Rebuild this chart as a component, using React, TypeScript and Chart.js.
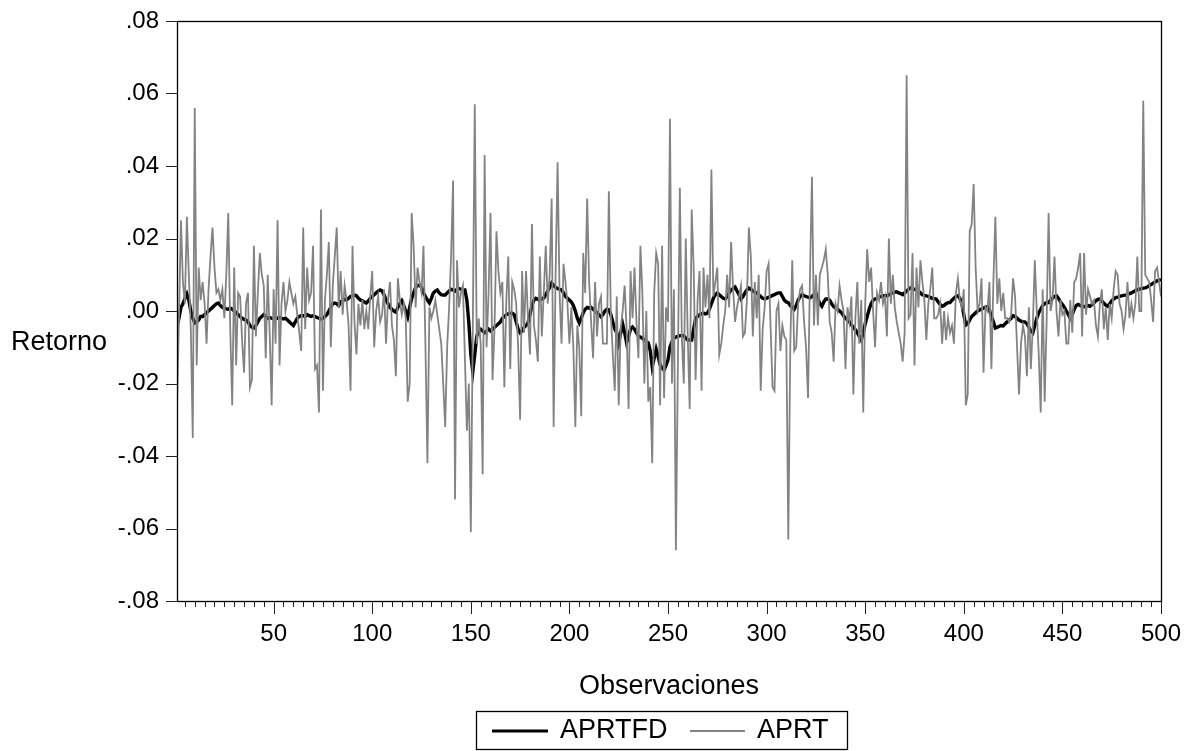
import React, { useEffect, useRef } from 'react';
import { Chart, registerables } from 'chart.js';

Chart.register(...registerables);

// Observation index (x axis): 1 .. 500
const OBS_FIRST = 1;
const OBS_LAST = 500;

// APRTFD (black, smoothed) – values in thousandths (‰)
const APRTFD_PERMIL: number[] = [
  -4.4, -2, 1, 2, 3.5, 4.7, 3, 0, -2, -3.3,
  -3, -2.5, -1.5, -1.5, -1, -0.5, 0, 0.5, 1, 1.5,
  2, 2.2, 1.5, 1, 0.8, 0.6, 0.5, 0.8, 0.5, 0,
  -0.5, -1, -1.5, -2, -2.3, -2.5, -3, -4, -4.5, -4.7,
  -4, -3, -2, -1.5, -1, -1.5, -2, -1.8, -2, -2.2,
  -2, -2, -1.8, -2, -2.2, -2, -2.5, -3, -3.5, -4,
  -3, -2, -1.5, -1.3, -1.3, -1.5, -1, -1.3, -1.5, -1.3,
  -1.5, -1.8, -2, -2.2, -2, -1.5, -1, 0, 1, 2,
  2.2, 2, 1.5, 2.5, 3, 3.2, 3, 3.5, 4, 4.2,
  4.4, 4.2, 3.5, 3, 2.8, 2.5, 2.2, 2.8, 3.5, 4,
  4.5, 5, 5.5, 5.8, 5.5, 4.5, 3, 2, 1, 0.5,
  0, -0.3, 1, 2, 2.8, 1.5, 0, -1.6, 1, 3.5,
  5, 6.5, 7, 7.2, 6.5, 5, 4, 3, 2.2, 3.5,
  5, 5.5, 5.8, 5, 4.5, 4.4, 4.4, 5, 5.5, 6,
  5.8, 5.5, 6, 6.2, 6, 5.8, 5.8, 3, -3.3, -12,
  -16.8, -12, -7, -5.2, -5, -5.5, -6, -5.5, -5, -5.5,
  -5, -4.5, -4, -3.5, -3, -2, -1.5, -1, -0.8, -0.6,
  -0.6, -1, -3, -5, -6, -5.5, -4.5, -4, -3.3, -1,
  1.5, 3, 3.5, 3.2, 3, 3.3, 3.6, 4.5, 5.5, 6.5,
  7.7, 7, 6.5, 6.2, 6, 5.8, 5, 4, 3.5, 3,
  2.5, 1.5, 0, -2, -3.3, -2, -0.5, 0.5, 1, 0.8,
  1, 0.5, 0, -0.5, -1, -1.6, -1, 0, 0.5, 0.3,
  -1, -3, -5, -6, -8.8, -6, -3.6, -6, -8.8, -7,
  -5, -4.4, -5, -6, -7, -7.2, -7.5, -8, -8.5, -8.8,
  -11, -15.4, -13, -10.5, -12.5, -14.9, -15.7, -16.3, -15, -13.5,
  -9.9, -8.5, -7.5, -7.2, -7, -6.8, -6.8, -6.8, -7.5, -8,
  -8, -8, -5, -2, -1.5, -1, -0.8, -0.6, -0.8, -0.6,
  0.5, 2, 3.5, 4.5, 5, 4.5, 4, 3.5, 3.3, 4,
  5, 5.8, 6.2, 6.6, 5.5, 4.5, 3.3, 4, 5, 5.8,
  6.3, 6, 5.5, 5.2, 5, 4.5, 4, 3.5, 3.3, 3.5,
  3.8, 4, 4.3, 4.5, 4.8, 5, 5, 4, 3, 2.5,
  2.3, 1.5, 1, 0.5, 1.5, 3, 4, 4.5, 4.2, 4,
  3.8, 3.6, 4, 4.5, 5, 3.5, 2, 1.3, 2.5, 3.3,
  3.3, 3, 2, 1.2, 0.8, 0.5, 0, -0.5, -1.3, -2,
  -2.5, -3, -3.8, -4.5, -5.2, -6, -7, -8, -6, -3.5,
  -1.5, 0.5, 2, 3, 3.3, 3.5, 3.8, 4, 4.2, 4.2,
  4.2, 4.5, 4.8, 5, 5.2, 5.3, 5, 4.8, 4.5, 5,
  5.5, 6, 6.4, 6.2, 6, 5.9, 5.5, 5, 4.5, 4.3,
  4.2, 4, 3.8, 3.5, 3.4, 3.3, 2.5, 1.8, 1.3, 1.5,
  2, 2.3, 2.3, 3, 3.5, 4, 4.2, 3.5, 2, -1,
  -3.9, -3.5, -2.5, -1.5, -1, -0.5, 0, 0.3, 0.5, 0.8,
  1, 1.2, 0.3, -1.5, -3, -4.7, -4.5, -4.2, -4, -4.1,
  -3.5, -3, -2.5, -2, -1.3, -1.5, -2, -2.5, -2.8, -3,
  -3, -3.5, -4.5, -5.5, -6, -4, -2, -0.5, 0.5, 1.5,
  2, 2.3, 2.3, 3, 3.5, 4, 4.2, 3.5, 2.5, 1.8,
  1, 0, -1, -2, -1, 0.5, 1.5, 1.8, 1.5, 1.3,
  1.2, 1.3, 1.5, 1.3, 1.8, 2.3, 2.8, 3.2, 3.3, 2.8,
  2.2, 1.6, 1.3, 2, 2.8, 3.3, 3.7, 3.8, 4, 4.2,
  4.3, 4.4, 4.5, 4.8, 5, 5.3, 5.6, 5.9, 6, 6.2,
  6.3, 6.4, 6.6, 7, 7.3, 7.7, 8, 8.3, 8.5, 8.6,
];

// APRT (grey, raw returns) – values in thousandths (‰)
const APRT_PERMIL: number[] = [
  -27, -2, 25, 8, 2, 26, 10, -5, -35, 56,
  -15, 12, 3, 8, 2, -9, 6, 15, 23, 12,
  5, 6, 3, 6, -2, 10, 27, -5, -26, 12,
  -15, 5, 4, -8, -17, 2, 5, -21, -19, 18,
  -7, 5, 16, 10, 7, -13, 10, -6, -26, 6,
  -9, 25, -15, 2, 8, 0, 3, 8, 5, 2,
  4, -1, -6, -11, 23, -5, 12, 3, 5, 18,
  -16, -15, -28, 28, -22, 3, 10, 19, -10, 7,
  15, 23, 1, 11, -1, 7, 3, -4, -22, 18,
  -3, -12, 2, -4, 3, -5, 0, -5, 4, 11,
  -10, 0, 4, -3, -1, 6, -9, 3, 8, -4,
  -8, -18, 9, 3, -1, 2, -2, -25, -20, 27,
  18, 1, 12, 8, 5, 18, -10, -42, 1, -2,
  0, 3, -1, -5, -9, -20, -32, -10, 1, 15,
  36, -52, 14, 1, 5, 7, -13, -33, -20, -61,
  -5, 57, -9, -2, -9, -45, 43, -10, 5, 27,
  -19, -5, 22, 11, 5, 8, -21, 3, 15, -16,
  8, 6, 2, -10, -30, 11, -6, 11, -2, -12,
  24, -4, -8, -14, 15, -7, 5, 18, 2, 10,
  31, -32, 10, 41, 5, -9, 13, 8, 2, -9,
  1, -10, -32, -4, -10, -29, 16, 5, 31, 8,
  -3, -13, 8, -7, 2, 4, -9, -9, -9, 33,
  -1, -12, -22, 4, -26, -5, 0, 7, -5, -27,
  11, -2, 12, -3, -13, 18, 5, -20, 0, -25,
  -21, -42, 5, 16, 13, -26, 18, -24, 1, -3,
  53, -20, 6, -66, -15, 34, -7, -20, 20, -7,
  -27, 28, 12, -19, 3, 11, -22, 12, 1, 10,
  -2, 39, 4, 8, 12, -12, -9, -4, 0, 10,
  1, 19, 6, -3, 1, 4, 7, -7, -6, 3,
  23, 15, -7, 8, -2, 10, -22, -5, 1, 11,
  13, -4, -21, -22, 0, 2, -11, -4, -7, -8,
  -63, -10, 14, -11, -10, 2, 6, 7, -3, -10,
  -24, 10, 37, -4, 10, -4, 10, 12, 14, 17,
  10, -3, -6, -14, 2, 0, 7, 3, 0, -16,
  1, -3, 4, -23, -2, 8, -9, 3, -28, 2,
  17, 8, 12, 0, -10, 5, 3, 8, 2, 4,
  -7, 20, 2, 10, 1, -3, -6, -9, -14, -6,
  65, -2, -1, 16, -15, 12, 1, 14, 8, 3,
  -8, 2, 6, 12, -2, -2, -1, 2, -9, 0,
  -8, -2, -6, -4, -9, 5, 9, 3, 1, 6,
  -26, -23, 22, 24, 35, 12, 0, 2, 9, -17,
  1, 0, 8, -16, 8, 26, 2, 9, 0, 5,
  -2, -2, -3, -1, 9, 4, -10, -23, -9, -4,
  -7, -18, 1, -16, -4, 14, 0, -12, -28, 6,
  -25, -3, 27, 0, 3, 15, 0, -7, 3, -1,
  0, -9, -9, 3, -6, 8, 9, 12, 16, -7,
  16, -1, 6, 4, 2, 3, -4, -7, 2, 6,
  -5, 1, -8, 2, -2, 6, 11, 10, 2, 0,
  -5, -1, 8, -2, 2, -2, 2, 15, 0, 0,
  58, 10, 9, 8, 3, -3, 11, 12, 8, 4,
];

const Y_TICK_VALUES = [-0.08, -0.06, -0.04, -0.02, 0, 0.02, 0.04, 0.06, 0.08];
const X_LABEL_VALUES = [50, 100, 150, 200, 250, 300, 350, 400, 450, 500];
const X_MINOR_STEP = 5;

const SERIES_NAMES = ['APRTFD', 'APRT'];
const X_TITLE = 'Observaciones';
const Y_TITLE = 'Retorno';

const FONT = "'Liberation Sans', Arial, sans-serif";
const GREY = '#838383';

function fmtY(v: number): string {
  const r = Math.round(v * 100);
  const s = '.' + String(Math.abs(r)).padStart(2, '0');
  return r < 0 ? '-' + s : s;
}

function zeroPadding(scale: any) {
  scale.paddingLeft = 0;
  scale.paddingRight = 0;
  scale.paddingTop = 0;
  scale.paddingBottom = 0;
}

const decorPlugin = {
  id: 'eviewsDecor',
  afterDraw(chart: any) {
    const ctx = chart.ctx as CanvasRenderingContext2D;
    const area = chart.chartArea;
    const xs = chart.scales.x;
    const ys = chart.scales.y;
    ctx.save();
    // frame
    ctx.strokeStyle = '#000';
    ctx.lineWidth = 1.3;
    ctx.strokeRect(Math.round(area.left) + 0.5, Math.round(area.top) + 0.5,
      Math.round(area.right - area.left), Math.round(area.bottom - area.top));
    // y ticks (outside, left)
    ctx.lineWidth = 1;
    ctx.strokeStyle = '#222';
    for (const v of Y_TICK_VALUES) {
      const py = Math.round(ys.getPixelForValue(v)) + 0.5;
      ctx.beginPath();
      ctx.moveTo(area.left - 11, py);
      ctx.lineTo(area.left, py);
      ctx.stroke();
    }
    // x ticks: minor every 5, major (longer) at labelled values
    for (let v = X_MINOR_STEP; v <= OBS_LAST; v += X_MINOR_STEP) {
      const px = Math.round(xs.getPixelForValue(v)) + 0.5;
      const major = X_LABEL_VALUES.includes(v);
      ctx.beginPath();
      ctx.moveTo(px, area.bottom + 1);
      ctx.lineTo(px, area.bottom + (major ? 13 : 6));
      ctx.stroke();
    }
    // axis titles
    ctx.fillStyle = '#000';
    ctx.font = `27px ${FONT}`;
    ctx.textBaseline = 'middle';
    ctx.textAlign = 'center';
    ctx.fillText(X_TITLE, (area.left + area.right) / 2, 687);
    ctx.textAlign = 'left';
    ctx.font = `27px ${FONT}`;
    ctx.fillText(Y_TITLE, 11, 343);
    // legend box
    const bx = 476, by = 711, bw = 371, bh = 38;
    ctx.lineWidth = 1.3;
    ctx.strokeStyle = '#000';
    ctx.strokeRect(bx + 0.5, by + 0.5, bw, bh);
    const ly = 731;
    ctx.lineWidth = 3.2;
    ctx.strokeStyle = '#000';
    ctx.beginPath();
    ctx.moveTo(492, ly);
    ctx.lineTo(548, ly);
    ctx.stroke();
    ctx.lineWidth = 1.8;
    ctx.strokeStyle = GREY;
    ctx.beginPath();
    ctx.moveTo(690, ly);
    ctx.lineTo(745, ly);
    ctx.stroke();
    ctx.font = `27px ${FONT}`;
    ctx.fillStyle = '#000';
    ctx.textAlign = 'left';
    ctx.fillText(SERIES_NAMES[0], 560, 731);
    ctx.fillText(SERIES_NAMES[1], 757, 731);
    ctx.restore();
  },
};

export default function App() {
  const canvasRef = useRef<HTMLCanvasElement | null>(null);

  useEffect(() => {
    const canvas = canvasRef.current;
    if (!canvas) return;
    const obs = APRT_PERMIL.map((_, i) => OBS_FIRST + i);
    const chart = new Chart(canvas, {
      type: 'line',
      data: {
        datasets: [
          {
            label: SERIES_NAMES[0],
            data: obs.map((o, i) => ({ x: o, y: APRTFD_PERMIL[i] / 1000 })),
            borderColor: '#000000',
            borderWidth: 3.4,
            pointRadius: 0,
            tension: 0,
            order: 1,
          },
          {
            label: SERIES_NAMES[1],
            data: obs.map((o, i) => ({ x: o, y: APRT_PERMIL[i] / 1000 })),
            borderColor: GREY,
            borderWidth: 1.8,
            pointRadius: 0,
            tension: 0,
            order: 0,
          },
        ],
      },
      options: {
        animation: false,
        responsive: false,
        devicePixelRatio: 1,
        layout: { padding: { top: 21, right: 28, left: 0, bottom: 0 } },
        plugins: { legend: { display: false }, tooltip: { enabled: false } },
        events: [],
        scales: {
          x: {
            type: 'linear',
            min: OBS_FIRST,
            max: OBS_LAST,
            grid: { display: false },
            border: { display: false },
            afterBuildTicks: (scale: any) => {
              scale.ticks = X_LABEL_VALUES.map((v) => ({ value: v }));
            },
            afterFit: (scale: any) => {
              scale.height = 150;
              zeroPadding(scale);
            },
            ticks: {
              autoSkip: false,
              maxRotation: 0,
              padding: 11,
              color: '#000',
              font: { family: FONT, size: 24 },
              callback: (v: any) => String(v),
            },
          },
          y: {
            type: 'linear',
            min: -0.08,
            max: 0.08,
            grid: { display: false },
            border: { display: false },
            afterBuildTicks: (scale: any) => {
              scale.ticks = Y_TICK_VALUES.map((v) => ({ value: v }));
            },
            afterFit: (scale: any) => {
              scale.width = 177;
              zeroPadding(scale);
            },
            ticks: {
              padding: 10,
              color: '#000',
              font: { family: FONT, size: 24 },
              callback: (v: any) => fmtY(Number(v)),
            },
          },
        },
      },
      plugins: [decorPlugin],
    });
    return () => chart.destroy();
  }, []);

  return (
    <div style={{ position: 'fixed', left: 0, top: 0, width: 1189, height: 751, background: '#fff' }}>
      <canvas ref={canvasRef} width={1189} height={751} />
    </div>
  );
}
